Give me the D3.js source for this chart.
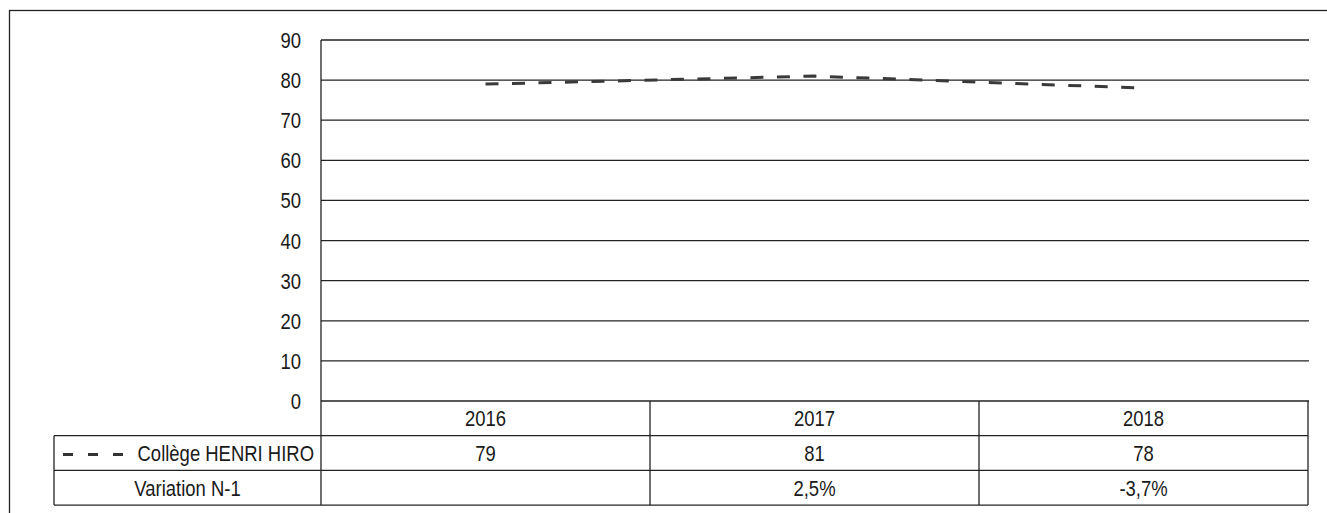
<!DOCTYPE html>
<head>
    <meta charset="utf-8">
    <script src="https://d3js.org/d3.v7.min.js"></script>
    <style>
      body { margin: 0; background: #fff; }
      text {
        font-family: "Liberation Sans", Arial, sans-serif;
        fill: #1a1a1a;
        font-size: 22px;
      }
    </style>
<body>
    <script>
        var years = ["2016", "2017", "2018"];
        var seriesName = "Collège HENRI HIRO";
        var values = [79, 81, 78];
        var variationLabel = "Variation N-1";
        var variations = ["", "2,5%", "-3,7%"];
        var yTicks = [0, 10, 20, 30, 40, 50, 60, 70, 80, 90];

        var narrow = 0.84; // squeeze text, the original uses a narrow font
        function place(px, py) {
          return "translate(" + px + "," + py + ") scale(" + narrow + ",1)";
        }

        var svg = d3.select("body").append("svg")
          .attr("width", 1327)
          .attr("height", 513);

        // outer frame
        svg.append("rect")
          .attr("x", 9.5).attr("y", 10.5)
          .attr("width", 1330).attr("height", 510)
          .attr("fill", "none").attr("stroke", "#222").attr("stroke-width", 1.3);

        var plotLeft = 321, plotRight = 1308, plotTop = 40, plotBottom = 401;
        var rowH = 34.7;
        var labelLeft = 54;

        var x = d3.scaleBand().domain(years).range([plotLeft, plotRight]);
        var y = d3.scaleLinear().domain([0, 90]).range([plotBottom, plotTop]);

        // gridlines
        svg.append("g").selectAll("line").data(yTicks).enter().append("line")
          .attr("x1", plotLeft).attr("x2", plotRight + 1)
          .attr("y1", function(d) { return y(d); })
          .attr("y2", function(d) { return y(d); })
          .attr("stroke", "#222").attr("stroke-width", 1.3);

        // y tick labels
        svg.append("g").selectAll("text").data(yTicks).enter().append("text")
          .attr("transform", function(d) { return place(301, y(d) + 8); })
          .attr("text-anchor", "end")
          .text(function(d) { return d; });

        // vertical axis line down through the table
        svg.append("line")
          .attr("x1", plotLeft).attr("x2", plotLeft)
          .attr("y1", plotTop).attr("y2", plotBottom + 3 * rowH)
          .attr("stroke", "#222").attr("stroke-width", 1.3);

        // table
        var table = svg.append("g");
        [1, 2, 3].forEach(function(i) {
          table.append("line")
            .attr("x1", labelLeft).attr("x2", plotRight)
            .attr("y1", plotBottom + i * rowH).attr("y2", plotBottom + i * rowH)
            .attr("stroke", "#222").attr("stroke-width", 1.3);
        });
        table.append("line")
          .attr("x1", labelLeft).attr("x2", labelLeft)
          .attr("y1", plotBottom + rowH).attr("y2", plotBottom + 3 * rowH)
          .attr("stroke", "#222").attr("stroke-width", 1.3);
        years.forEach(function(yr) {
          var xr = x(yr) + x.bandwidth();
          table.append("line")
            .attr("x1", xr).attr("x2", xr)
            .attr("y1", plotBottom).attr("y2", plotBottom + 3 * rowH)
            .attr("stroke", "#222").attr("stroke-width", 1.3);
        });

        var cx = function(d) { return x(d) + x.bandwidth() / 2; };
        table.selectAll(".yr").data(years).enter().append("text")
          .attr("transform", function(d) { return place(cx(d), plotBottom + rowH / 2 + 8); })
          .attr("text-anchor", "middle").text(function(d) { return d; });
        table.selectAll(".val").data(values).enter().append("text")
          .attr("transform", function(d, i) { return place(cx(years[i]), plotBottom + rowH * 1.5 + 8); })
          .attr("text-anchor", "middle").text(function(d) { return d; });
        table.selectAll(".var").data(variations).enter().append("text")
          .attr("transform", function(d, i) { return place(cx(years[i]), plotBottom + rowH * 2.5 + 8); })
          .attr("text-anchor", "middle").text(function(d) { return d; });

        // row labels
        table.append("text")
          .attr("transform", place(314, plotBottom + rowH * 1.5 + 8))
          .attr("text-anchor", "end").text(seriesName);
        table.append("text")
          .attr("transform", place((labelLeft + plotLeft) / 2, plotBottom + rowH * 2.5 + 8))
          .attr("text-anchor", "middle").text(variationLabel);
        table.append("line")
          .attr("x1", 63).attr("x2", 127)
          .attr("y1", plotBottom + rowH * 1.5 + 1.5).attr("y2", plotBottom + rowH * 1.5 + 1.5)
          .attr("stroke", "#333").attr("stroke-width", 3)
          .attr("stroke-dasharray", "10,15");

        // series line
        var line = d3.line()
          .x(function(d, i) { return cx(years[i]); })
          .y(function(d) { return y(d); });
        svg.append("path")
          .datum(values)
          .attr("d", line)
          .attr("fill", "none")
          .attr("stroke", "#3a3a3a")
          .attr("stroke-width", 3)
          .attr("stroke-dasharray", "13,13.5");
    </script>
</body>
